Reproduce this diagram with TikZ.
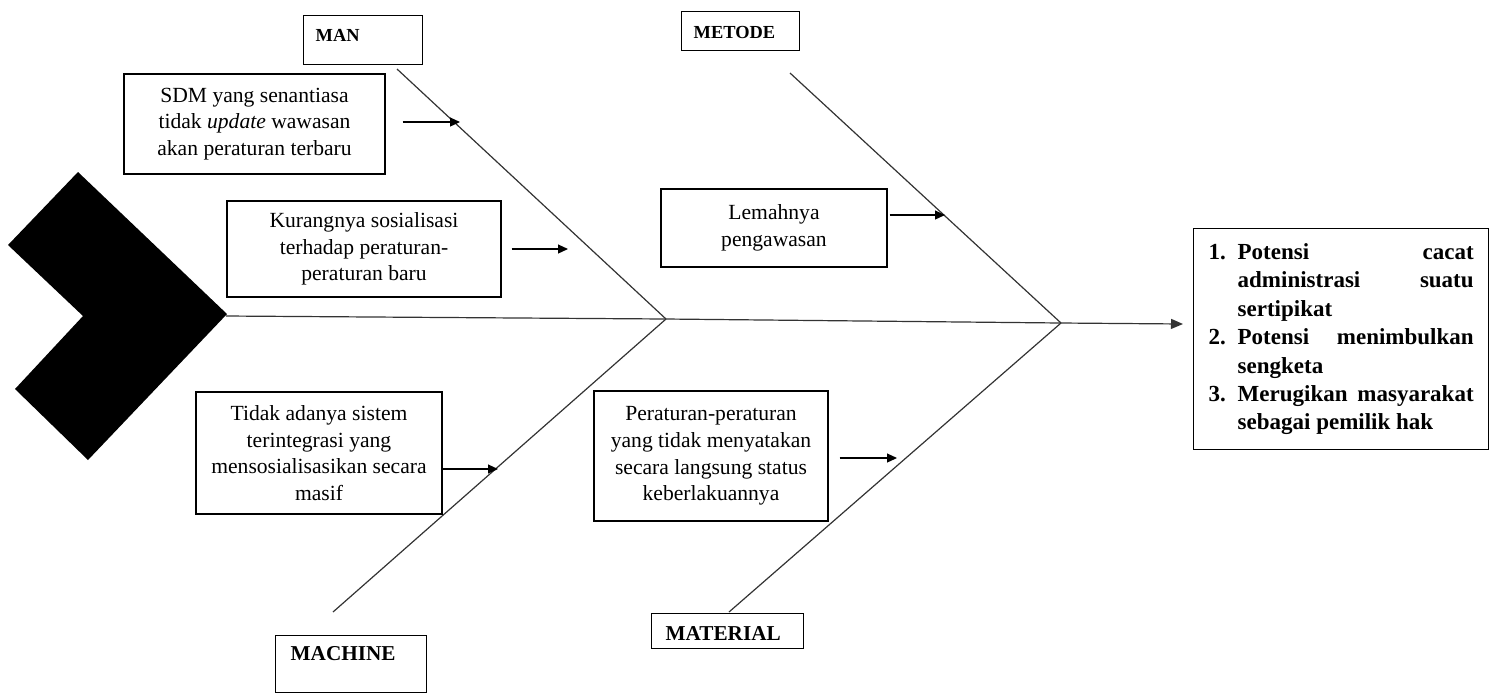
\documentclass[tikz,border=0pt]{standalone}
\usepackage{fontspec}
\setmainfont{Liberation Serif}
\usetikzlibrary{arrows.meta}

\tikzset{every picture/.style={line width=0.6pt}}
\tikzset{
  causebox/.style={draw, line width=0.7pt, align=center, inner sep=0pt, font=\fontsize{10.8}{13.3}\selectfont},
  catbox/.style={draw, line width=0.7pt, anchor=north west, inner ysep=0pt, align=left},
  cause/.style={-{Triangle[length=5pt,width=4.5pt]}},
  bone/.style={draw=black!80},
}

\begin{document}
\begin{tikzpicture}[x=0.5pt,y=0.5pt,yscale=-1,xscale=1]
	\useasboundingbox (0,0) rectangle (1496,693);

	%Shape: Chevron (head)
	\fill (78,172) -- (227,314) -- (88,460) -- (15,389) -- (83,316) -- (8,245) -- cycle ;

	% Junctions and bone ends
	\coordinate (head) at (226,316);
	\coordinate (j1) at (666,319);
	\coordinate (j2) at (1061,323);
	\coordinate (eff) at (1183,324);
	\coordinate (manend) at (397,69);
	\coordinate (metend) at (790,73);
	\coordinate (macend) at (333,612);
	\coordinate (matend) at (729,612);

	%Straight Lines: spine
	\draw [bone, -{Triangle[length=6pt,width=5pt]}] (head) -- (j1) -- (j2) -- (eff) ;
	%Straight Lines: bones
	\draw [bone] (manend) -- (j1) ;
	\draw [bone] (macend) -- (j1) ;
	\draw [bone] (metend) -- (j2) ;
	\draw [bone] (matend) -- (j2) ;

	% Category boxes
	\node [catbox, font=\fontsize{9.2}{11}\selectfont\bfseries, inner xsep=6pt, text width=47.5pt, text height=13pt, text depth=11.5pt] (man) at (303,15) {MAN};
	\node [catbox, font=\fontsize{9.2}{11}\selectfont\bfseries, inner xsep=6pt, text width=47pt, text height=13.5pt, text depth=6pt] (metode) at (681,11) {METODE};
	\node [catbox, font=\fontsize{10.6}{12}\selectfont\bfseries, inner xsep=7.5pt, text width=60.5pt, text height=12.5pt, text depth=16pt] (machine) at (275,635) {MACHINE};
	\node [catbox, font=\fontsize{10.6}{12}\selectfont\bfseries, inner xsep=7pt, text width=62pt, text height=13.5pt, text depth=4pt] (material) at (651,613) {MATERIAL};

	% Cause boxes
	\node [causebox, minimum width=130.5pt, minimum height=50pt] (sdm) at (254.5,124) {SDM yang senantiasa\\tidak \textit{update} wawasan\\akan peraturan terbaru};
	\node [causebox, minimum width=137pt, minimum height=48pt] (kurang) at (364,249) {Kurangnya sosialisasi\\terhadap peraturan-\\peraturan baru};
	\node [causebox, minimum width=113pt, minimum height=39pt] (lemah) at (774,228) {Lemahnya\\pengawasan};
	\node [causebox, minimum width=123pt, minimum height=61pt] (tidak) at (319,453) {Tidak adanya sistem\\terintegrasi yang\\mensosialisasikan secara\\masif};
	\node [causebox, minimum width=117pt, minimum height=65pt] (perat) at (711,456) {Peraturan-peraturan\\yang tidak menyatakan\\secara langsung status\\keberlakuannya};

	% Effect box
	\node [draw, line width=0.7pt, anchor=north west, minimum width=147.5pt, minimum height=110.5pt, inner xsep=7.5pt, inner ysep=3pt, text width=132.5pt, align=justify, font=\fontsize{11.5}{14.2}\selectfont\bfseries] (res) at (1193,228) {\hyphenpenalty=10000\exhyphenpenalty=10000%
	\hangindent=14.5pt\hangafter=1\noindent\makebox[14.5pt][l]{1.}Potensi cacat administrasi suatu sertipikat\par
	\hangindent=14.5pt\hangafter=1\noindent\makebox[14.5pt][l]{2.}Potensi menimbulkan sengketa\par
	\hangindent=14.5pt\hangafter=1\noindent\makebox[14.5pt][l]{3.}Merugikan masyarakat sebagai pemilik hak\par};

	% Arrow tips on the bones
	\coordinate (a1) at (460,122);
	\coordinate (a2) at (568,249);
	\coordinate (a3) at (945,215);
	\coordinate (a4) at (498,469);
	\coordinate (a5) at (897,458);

	%Straight Lines: causes
	\draw [cause] ([xshift=8.5pt]sdm.east |- a1) -- (a1) ;
	\draw [cause] ([xshift=5pt]kurang.east |- a2) -- (a2) ;
	\draw [cause] ([xshift=1pt]lemah.east |- a3) -- (a3) ;
	\draw [cause] (tidak.east |- a4) -- (a4) ;
	\draw [cause] ([xshift=5.5pt]perat.east |- a5) -- (a5) ;

\end{tikzpicture}
\end{document}
